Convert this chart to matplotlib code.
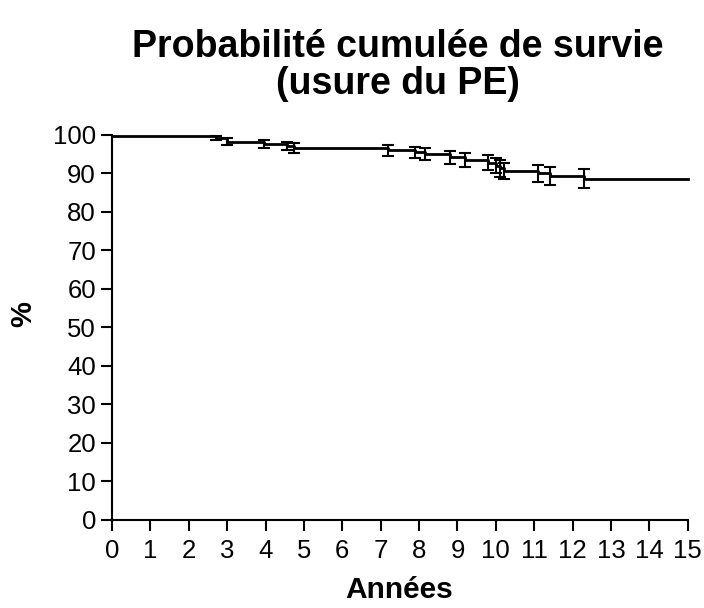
import matplotlib.pyplot as plt

plt.rcParams['font.family'] = ['Liberation Sans', 'DejaVu Sans']

# Kaplan-Meier steps (years, % survival) and error half-widths
times = [0, 2.7, 3.0, 3.95, 4.55, 4.75, 7.2, 7.9, 8.15, 8.8, 9.2, 9.8, 10.0, 10.1, 10.2, 11.1, 11.4, 12.3]
survival = [99.7, 99.2, 98.3, 97.6, 97.1, 96.5, 96.0, 95.5, 95.0, 94.2, 93.6, 92.8, 92.0, 91.3, 90.6, 90.0, 89.4, 88.6]
errors = [0.3, 0.6, 0.9, 1.0, 1.1, 1.3, 1.4, 1.5, 1.6, 1.7, 1.8, 1.9, 2.0, 2.1, 2.1, 2.3, 2.4, 2.5]
end_time = 15

fig = plt.figure(figsize=(7.04, 6.08), dpi=100)
ax = fig.add_axes([0.159, 0.145, 0.818, 0.633])

ax.step(times + [end_time], survival + [survival[-1]], where='post', color='black', lw=2, clip_on=False)
ax.errorbar(times[1:], survival[1:], yerr=errors[1:], fmt='none', ecolor='black',
            elinewidth=1.5, capsize=4, capthick=1.5, clip_on=False)

ax.set_xlim(0, 15)
ax.set_ylim(0, 100)
ax.set_xticks(range(0, 16))
ax.set_yticks(range(0, 101, 10))
ax.tick_params(direction='out', length=8, width=1.5, labelsize=18.5)
ax.tick_params(axis='x', pad=6)
for s in ['top', 'right']:
    ax.spines[s].set_visible(False)
for s in ['left', 'bottom']:
    ax.spines[s].set_linewidth(1.5)

ax.set_xlabel('Années', fontsize=21.5, fontweight='bold')
ax.xaxis.set_label_coords(0.498, -0.145)
ax.set_ylabel('%', fontsize=21, fontweight='bold', va='center')
ax.yaxis.set_label_coords(-0.154, 0.535)
fig.suptitle('Probabilité cumulée de survie\n(usure du PE)', fontsize=27, fontweight='bold',
             x=0.565, y=0.953, linespacing=1.05)

fig.savefig('out.png', dpi=100)
